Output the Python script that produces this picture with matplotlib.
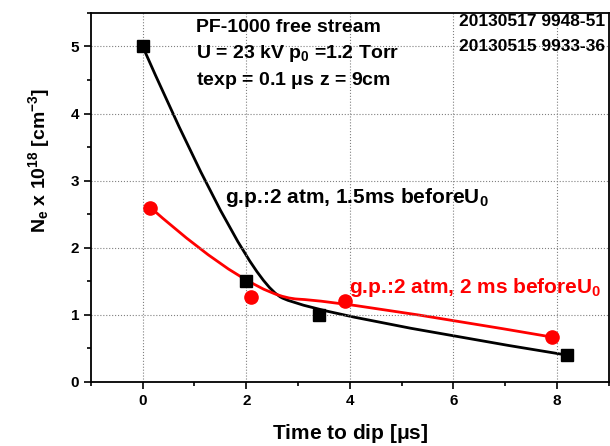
import matplotlib
matplotlib.use("Agg")
import matplotlib.pyplot as plt
import numpy as np
from matplotlib.path import Path
from matplotlib.patches import PathPatch
from matplotlib.ticker import MultipleLocator

plt.rcParams["font.family"] = "Liberation Sans"
plt.rcParams["font.weight"] = "bold"
plt.rcParams["mathtext.fontset"] = "custom"
plt.rcParams["mathtext.bf"] = "Liberation Sans:bold"
plt.rcParams["mathtext.rm"] = "Liberation Sans:bold"
plt.rcParams["mathtext.it"] = "Liberation Sans:bold"
plt.rcParams["mathtext.default"] = "bf"

# 1.5 ms before U0 (black squares)
t_black = [0.0, 2.0, 3.4, 8.2]
ne_black = [5.0, 1.5, 1.0, 0.4]
# 2 ms before U0 (red circles)
t_red = [0.15, 2.1, 3.9, 7.9]
ne_red = [2.6, 1.27, 1.2, 0.67]


def bspline_path(x, y):
    # quadratic B-spline (clamped) using the data points as control points
    pts = np.column_stack([x, y])
    verts = [pts[0]]
    codes = [Path.MOVETO]
    n = len(pts)
    for i in range(1, n - 1):
        end = pts[-1] if i == n - 2 else (pts[i] + pts[i + 1]) / 2
        verts += [pts[i], end]
        codes += [Path.CURVE3, Path.CURVE3]
    return Path(verts, codes)


fig = plt.figure(figsize=(6.1, 4.46), dpi=100)
ax = fig.add_axes([0.149, 0.1435, 0.849, 0.8275])

ax.add_patch(PathPatch(bspline_path(t_black, ne_black), fill=False, ec="black", lw=2))
ax.plot(t_black, ne_black, "s", color="black", ms=8.5)

ax.add_patch(PathPatch(bspline_path(t_red, ne_red), fill=False, ec="red", lw=2))
ax.plot(t_red, ne_red, "o", color="red", ms=9.5)

ax.set_xlim(-1, 9)
ax.set_ylim(0, 5.5)
ax.xaxis.set_major_locator(MultipleLocator(2))
ax.xaxis.set_minor_locator(MultipleLocator(1))
ax.yaxis.set_major_locator(MultipleLocator(1))
ax.yaxis.set_minor_locator(MultipleLocator(0.5))
ax.grid(True, which="major", ls=":", color="gray", lw=0.8)
ax.tick_params(which="major", length=5, width=1.2, labelsize=11)
ax.tick_params(which="minor", length=3, width=1.2)
for s in ax.spines.values():
    s.set_linewidth(1.3)

ax.set_xlabel("Time to dip [$\\mu$s]", fontsize=15, fontweight="bold", labelpad=10)
ax.set_ylabel("N$_e$ x 10$^{18}$ [cm$^{-3}$]", fontsize=14, fontweight="bold")
ax.yaxis.set_label_coords(-0.075, 0.6)

ax.text(0.203, 0.948, "PF-1000 free stream", transform=ax.transAxes, fontsize=14, va="baseline")
ax.text(0.203, 0.878, "U = 23 kV p$_0$ =1.2 Torr", transform=ax.transAxes, fontsize=14, va="baseline")
ax.text(0.203, 0.805, "texp = 0.1 $\\mu$s z = 9cm", transform=ax.transAxes, fontsize=14, va="baseline")
ax.text(0.992, 0.965, "20130517 9948-51", transform=ax.transAxes, fontsize=12.5, va="baseline", ha="right")
ax.text(0.992, 0.898, "20130515 9933-36", transform=ax.transAxes, fontsize=12.5, va="baseline", ha="right")
ax.text(1.59, 2.67, "g.p.:2 atm, 1.5ms beforeU$_0$", fontsize=15, va="baseline")
ax.text(3.98, 1.32, "g.p.:2 atm, 2 ms beforeU$_0$", fontsize=15, color="red", va="baseline")

fig.savefig("out.png", dpi=100)
